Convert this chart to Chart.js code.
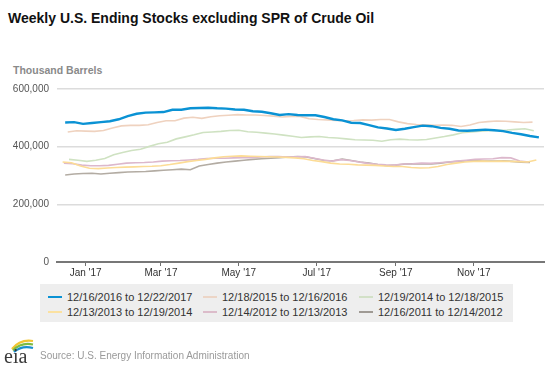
<!DOCTYPE html>
<html><head><meta charset="utf-8">
<script src="https://cdn.jsdelivr.net/npm/chart.js@4.4.1/dist/chart.umd.min.js"></script>
<style>
html,body{margin:0;padding:0;background:#fff;}
body{width:554px;height:369px;position:relative;overflow:hidden;font-family:"Liberation Sans",Arial,sans-serif;}
#title{position:absolute;left:8px;top:10px;font-size:14px;line-height:16px;font-weight:bold;color:#111;white-space:nowrap;}
#unit{position:absolute;left:13px;top:64px;font-size:10.5px;line-height:12px;font-weight:bold;color:#8a8a8a;white-space:nowrap;}
#wrap{position:absolute;left:0;top:0;width:554px;height:369px;}
#legend{position:absolute;left:40px;top:284px;width:473px;height:38px;background:#eeeeee;}
.li{position:absolute;font-size:11px;line-height:13px;color:#333;white-space:nowrap;}
.sw{display:inline-block;width:14px;height:2px;vertical-align:middle;margin-right:5px;position:relative;top:-1px;}
#source{position:absolute;left:40px;top:350px;font-size:10px;line-height:12px;color:#9a9a9a;white-space:nowrap;}
#logo{position:absolute;left:3px;top:336px;}
</style></head>
<body>
<div id="title">Weekly U.S. Ending Stocks excluding SPR of Crude Oil</div>
<div id="unit">Thousand Barrels</div>
<div id="wrap"><canvas id="c" width="554" height="369"></canvas></div>
<div id="legend"></div>
<svg id="logo" width="34" height="30">
  <path d="M9 13 Q17 3 30 5" stroke="#f2c531" stroke-width="2.2" fill="none"/>
  <path d="M10 14.5 Q18 6 30 8.5" stroke="#7dbb43" stroke-width="2.2" fill="none"/>
  <path d="M11 16 Q19 9 30 12" stroke="#1a8fd0" stroke-width="2.2" fill="none"/>
  <text x="1" y="27" font-family="Liberation Serif, DejaVu Serif, serif" font-size="20" fill="#3a3a3a">eia</text>
</svg>
<div id="source">Source: U.S. Energy Information Administration</div>
<script>
// ---- data (thousand barrels), weekly values; x = days from Jan 1 (2017 calendar frame) ----
const seriesLabels = [
  "12/16/2016 to 12/22/2017",
  "12/18/2015 to 12/16/2016",
  "12/19/2014 to 12/18/2015",
  "12/13/2013 to 12/19/2014",
  "12/14/2012 to 12/13/2013",
  "12/16/2011 to 12/14/2012"
];
const seriesStartDay = [-16, -14, -13, -18, -17, -16];
const stocks2017 = [484,485,479,482,485,488,495,506,514,518,519,520,528,528,533,534,535,533,532,529,528,523,521,516,510,513,510,509,509,503,495,491,483,482,475,467,463,458,462,468,473,471,465,462,456,455,457,459,457,454,448,443,437,432];
const stocks2016 = [451,455,454,453,456,465,472,474,474,476,484,490,490,499,502,498,504,507,509,511,510,510,508,506,503,505,505,497,494,493,491,490,491,493,492,494,494,486,480,477,476,474,475,474,470,475,484,487,489,488,486,484,485];
const stocks2015 = [356,353,349,353,359,372,380,387,391,401,410,415,427,434,441,449,451,453,456,457,452,450,447,444,440,436,432,434,435,432,430,427,424,423,422,419,424,426,424,423,425,430,435,441,448,451,454,455,457,458,460,462,455];
const stocks2014 = [347,344,333,325,324,326,328,329,330,331,332,334,338,343,348,352,356,361,365,367,368,367,366,365,364,363,361,358,352,348,343,340,339,337,336,335,333,331,331,328,326,327,331,338,343,347,349,350,349,350,349,348,347,354];
const stocks2013 = [343,341,336,334,334,335,339,343,344,345,347,350,351,352,354,356,359,360,360,361,362,362,364,366,366,364,365,366,360,354,350,355,352,347,342,339,337,336,340,341,343,342,344,347,350,353,356,357,358,362,361,350,347];
const stocks2012 = [302,305,307,308,305,308,310,312,313,314,316,318,320,322,320,333,338,343,347,350,353,356,358,360,362,364,366,364,358,352,351,357,352,347,343,338,334,336,340,341,340,340,343,347,349,351,351,350,350,351,349,346,345];
const tickDays = [0, 59, 120, 181, 243, 304];
const tickLabels = ["Jan '17", "Mar '17", "May '17", "Jul '17", "Sep '17", "Nov '17"];
const yTicks = [0, 200000, 400000, 600000];

const lineColors = ["#0a92d4", "#efd2bf", "#cfe2c2", "#fcdc96", "#dcb8cc", "#b3aca3"];
const swatchColors = ["#0a92d4", "#ecd5c6", "#d2e0c7", "#fbe1a0", "#dcbcca", "#9f9a94"];
const lineWidths = [2.4, 1.6, 1.6, 1.6, 1.6, 1.6];

const allValues = [stocks2017, stocks2016, stocks2015, stocks2014, stocks2013, stocks2012];
const datasets = allValues.map((vals, k) => ({
  label: seriesLabels[k],
  data: vals.map((v, i) => ({x: seriesStartDay[k] + 7 * i, y: v * 1000})),
  borderColor: lineColors[k],
  borderWidth: lineWidths[k],
  pointRadius: 0,
  tension: 0,
  fill: false
}));

new Chart(document.getElementById('c'), {
  type: 'line',
  data: {datasets},
  options: {
    responsive: false,
    animation: false,
    events: [],
    layout: {padding: {top: 89, left: 0, right: 10, bottom: 87}},
    plugins: {legend: {display: false}, tooltip: {enabled: false}, title: {display: false}},
    scales: {
      x: {
        type: 'linear', min: -22.4, max: 359,
        afterBuildTicks: (s) => { s.ticks = tickDays.map(v => ({value: v})); },
        afterFit: (s) => { s.height = 20; },
        grid: {display: true, drawOnChartArea: false, drawTicks: true, tickLength: 4, color: '#6f6f6f', lineWidth: 1},
        border: {display: true, color: '#777777', width: 2},
        ticks: {
          autoSkip: false, maxRotation: 0, padding: 1,
          color: '#333', font: {family: "'Liberation Sans', Arial, sans-serif", size: 10},
          callback: (v) => { const i = tickDays.indexOf(v); return i >= 0 ? tickLabels[i] : ''; }
        }
      },
      y: {
        min: 0, max: 600000,
        afterBuildTicks: (s) => { s.ticks = yTicks.map(v => ({value: v})); },
        afterFit: (s) => { s.width = 57; },
        grid: {drawTicks: false, color: (ctx) => ctx.tick && ctx.tick.value === 0 ? 'rgba(0,0,0,0)' : '#dcdcdc', lineWidth: 1.5},
        border: {display: false},
        ticks: {
          padding: 8, color: '#555', font: {family: "'Liberation Sans', Arial, sans-serif", size: 10},
          callback: (v) => v.toLocaleString('en-US')
        }
      }
    }
  }
});

// legend built from the same arrays
const legend = document.getElementById('legend');
const colX = [8, 163, 319];
const rowY = [7, 22];
seriesLabels.forEach((lab, k) => {
  const d = document.createElement('div');
  d.className = 'li';
  d.style.left = colX[k % 3] + 'px';
  d.style.top = rowY[Math.floor(k / 3)] + 'px';
  const sw = document.createElement('span');
  sw.className = 'sw';
  sw.style.background = swatchColors[k];
  d.appendChild(sw);
  d.appendChild(document.createTextNode(lab));
  legend.appendChild(d);
});
</script>
</body></html>
